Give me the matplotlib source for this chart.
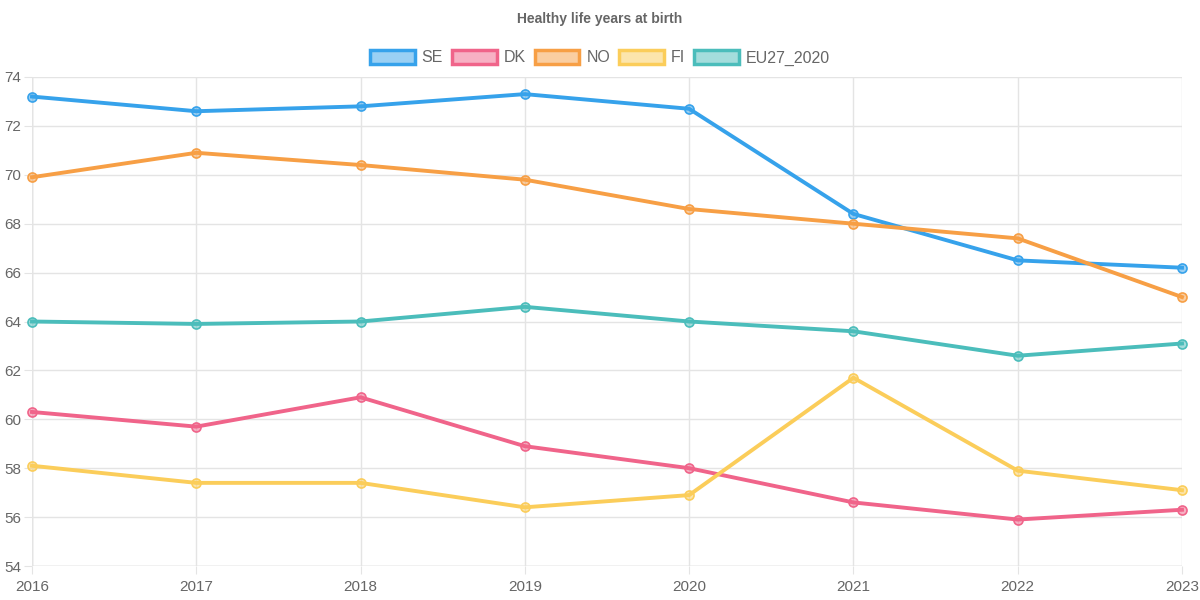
import matplotlib
matplotlib.use('Agg')
import matplotlib.pyplot as plt
from matplotlib.patches import Patch
from matplotlib.colors import to_rgba

years = [2016, 2017, 2018, 2019, 2020, 2021, 2022, 2023]
se = [73.2, 72.6, 72.8, 73.3, 72.7, 68.4, 66.5, 66.2]
dk = [60.3, 59.7, 60.9, 58.9, 58.0, 56.6, 55.9, 56.3]
no = [69.9, 70.9, 70.4, 69.8, 68.6, 68.0, 67.4, 65.0]
fi = [58.1, 57.4, 57.4, 56.4, 56.9, 61.7, 57.9, 57.1]
eu = [64.0, 63.9, 64.0, 64.6, 64.0, 63.6, 62.6, 63.1]
labels = ['SE', 'DK', 'NO', 'FI', 'EU27_2020']
colors = ['#36a2eb', '#f0648a', '#f79f45', '#fbcd5a', '#4bbdbb']

plt.rcParams['font.family'] = ['Liberation Sans', 'DejaVu Sans']

fig = plt.figure(figsize=(12, 6), dpi=100)
ax = fig.add_axes([32 / 1200, 34 / 600, 1150 / 1200, 489 / 600])

handles = []
for vals, lab, col in zip([se, dk, no, fi, eu], labels, colors):
    ax.plot(years, vals, color=col, linewidth=2.8, marker='o', markersize=6.5,
            markerfacecolor=to_rgba(col, 0.5), markeredgecolor=col,
            markeredgewidth=1.2, zorder=3, clip_on=False)
    handles.append(Patch(facecolor=to_rgba(col, 0.5), edgecolor=col,
                         linewidth=2.5, label=lab))

ax.set_xlim(2016, 2023)
ax.set_ylim(54, 74)
ax.set_yticks(range(54, 75, 2))
ax.set_xticks(years)
ax.grid(True, color='#e4e4e4', linewidth=1)
for s in ax.spines.values():
    s.set_visible(False)
ax.tick_params(axis='both', length=6, color='#e4e4e4', labelcolor='#666666',
               labelsize=11)
ax.tick_params(axis='x', pad=4)
ax.tick_params(axis='y', pad=2)
ax.axhline(54, color='#d0d0d0', linewidth=1, zorder=1)
ax.axvline(2016, color='#d0d0d0', linewidth=1, zorder=1)

fig.text(0.5, 1 - 19 / 600, 'Healthy life years at birth', ha='center',
         va='center', fontsize=10, fontweight='bold', color='#666666')
fig.legend(handles=handles, loc='center', bbox_to_anchor=(0.5, 1 - 58 / 600),
           ncol=5, frameon=False, handlelength=2.8, handleheight=0.9,
           handletextpad=0.45, columnspacing=0.55,
           prop={'size': 11.5}, labelcolor='#666666')

fig.savefig('out.png', dpi=100)
